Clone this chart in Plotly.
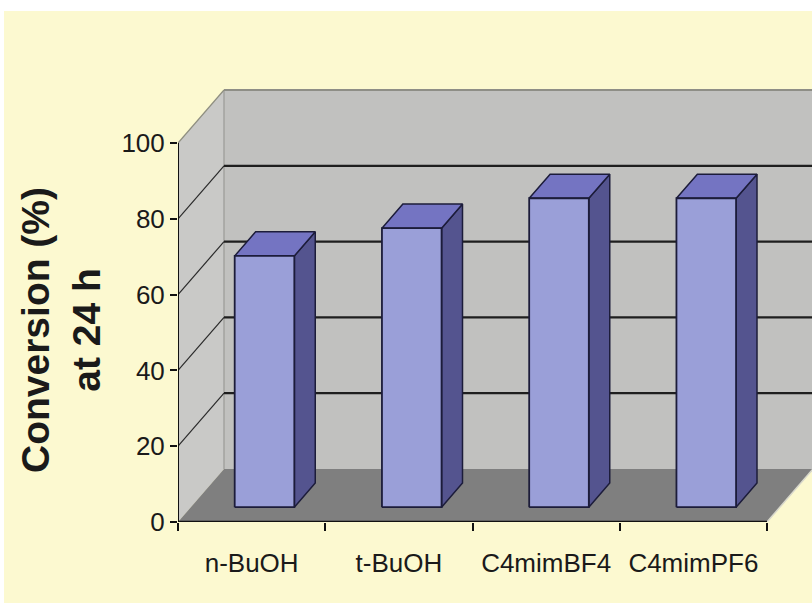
import plotly.graph_objects as go

# Data
categories = ["n-BuOH", "t-BuOH", "C4mimBF4", "C4mimPF6"]
conversion = [66.3, 73.6, 81.5, 81.5]
y_ticks = [0, 20, 40, 60, 80, 100]

# Figure geometry (pixels)
W, H = 812, 603
M_LEFT, M_BOTTOM = 178, 81
PX_X = 147.25           # pixels per category slot
PX_Y = 3.79             # pixels per percentage point
DEPTH_DX, DEPTH_DY = 46, 53   # oblique depth of the chart box, pixels

Dx = DEPTH_DX / PX_X
Dy = DEPTH_DY / PX_Y
BAR_W = 0.405
BAR_D0, BAR_D1 = 0.28, 0.735   # bar front / back as fraction of box depth

n = len(categories)
x_max = (W - M_LEFT) / PX_X
y_max = (H - M_BOTTOM) / PX_Y


def proj(x, d, v):
    """Oblique projection of (slot x, depth fraction, value) to plot coords."""
    return x + d * Dx, v + d * Dy


def poly(points, fill, line_color=None, line_width=0):
    xs, ys = zip(*points)
    xs = list(xs) + [xs[0]]
    ys = list(ys) + [ys[0]]
    return go.Scatter(
        x=xs, y=ys, mode="lines", fill="toself", fillcolor=fill,
        line=dict(color=line_color or fill, width=line_width),
        hoverinfo="skip", showlegend=False,
    )


def seg(p0, p1, color, width):
    return go.Scatter(
        x=[p0[0], p1[0]], y=[p0[1], p1[1]], mode="lines",
        line=dict(color=color, width=width),
        hoverinfo="skip", showlegend=False,
    )


fig = go.Figure()

top = y_ticks[-1]

# Back wall
fig.add_trace(poly([proj(0, 1, 0), proj(n + 1, 1, 0),
                    proj(n + 1, 1, top), proj(0, 1, top)], "#C1C1BF"))
# Side wall
fig.add_trace(poly([proj(0, 0, 0), proj(0, 1, 0),
                    proj(0, 1, top), proj(0, 0, top)], "#C9C9C7"))
# Floor
fig.add_trace(poly([proj(0, 0, 0), proj(n, 0, 0),
                    proj(n, 1, 0), proj(0, 1, 0)], "#7F7F7F"))

# Wall edges
fig.add_trace(seg(proj(0, 1, 0), proj(0, 1, top), "#9A9A96", 1.2))
fig.add_trace(seg(proj(0, 1, top), proj(n + 1, 1, top), "#8E8E86", 2))
fig.add_trace(seg(proj(0, 0, top), proj(0, 1, top), "#8E8E80", 1.2))
fig.add_trace(seg(proj(n, 0, 0), proj(n, 1, 0), "#D8D8CC", 1.5))

# Gridlines on back and side walls
for v in y_ticks[1:-1]:
    fig.add_trace(seg(proj(0, 1, v), proj(n + 1, 1, v), "#1E1E1E", 2.2))
    fig.add_trace(seg(proj(0, 0, v), proj(0, 1, v), "#2A2A2A", 1.2))

# Axis lines
fig.add_trace(seg(proj(0, 0, 0), proj(0, 0, top), "#111111", 2))
fig.add_trace(seg(proj(0, 0, 0), proj(n, 0, 0), "#111111", 2.5))

# 3D bars
OUTLINE = "#1C1C3A"
for i, v in enumerate(conversion):
    xl = i + 0.5 - BAR_W / 2
    xr = i + 0.5 + BAR_W / 2
    front = [proj(xl, BAR_D0, 0), proj(xr, BAR_D0, 0),
             proj(xr, BAR_D0, v), proj(xl, BAR_D0, v)]
    side = [proj(xr, BAR_D0, 0), proj(xr, BAR_D1, 0),
            proj(xr, BAR_D1, v), proj(xr, BAR_D0, v)]
    lid = [proj(xl, BAR_D0, v), proj(xr, BAR_D0, v),
           proj(xr, BAR_D1, v), proj(xl, BAR_D1, v)]
    fig.add_trace(poly(side, "#54548F", OUTLINE, 1.5))
    fig.add_trace(poly(lid, "#7474C2", OUTLINE, 1.5))
    fig.add_trace(poly(front, "#9A9FD8", OUTLINE, 1.8))

label_font = dict(family="Liberation Sans, Arial, sans-serif", size=26, color="#1A1A1A")

fig.update_layout(
    width=W, height=H,
    margin=dict(l=M_LEFT, r=0, t=0, b=M_BOTTOM, pad=0, autoexpand=False),
    paper_bgcolor="#FFFFFF",
    plot_bgcolor="rgba(0,0,0,0)",
    showlegend=False,
    xaxis=dict(
        range=[0, x_max], tickmode="array", tickvals=list(range(n + 1)),
        showticklabels=False, ticks="outside", ticklen=8, tickwidth=2,
        tickcolor="#111111", showgrid=False, zeroline=False, showline=False,
        fixedrange=True, automargin=False,
    ),
    xaxis2=dict(
        overlaying="x", anchor="y", side="bottom", matches="x",
        range=[0, x_max], tickmode="array",
        tickvals=[i + 0.5 for i in range(n)], ticktext=categories,
        ticks="", tickangle=0, ticklabelstandoff=23, tickfont=label_font,
        showgrid=False, zeroline=False, showline=False, fixedrange=True,
        automargin=False,
    ),
    yaxis=dict(
        range=[0, y_max], tickmode="array", tickvals=y_ticks,
        ticks="outside", ticklen=7, tickwidth=2, tickcolor="#111111",
        tickfont=label_font, showgrid=False, zeroline=False, showline=False,
        fixedrange=True, automargin=False,
    ),
    shapes=[dict(
        type="rect", xref="paper", yref="paper", layer="below",
        x0=(4 - M_LEFT) / (W - M_LEFT), x1=1,
        y0=-M_BOTTOM / (H - M_BOTTOM), y1=(H - M_BOTTOM - 11) / (H - M_BOTTOM),
        fillcolor="#FCF9D0", line=dict(width=0),
    )],
    annotations=[dict(
        text="<b>Conversion (%)</b><br><b>at 24 h</b>",
        xref="paper", yref="paper",
        x=(61 - M_LEFT) / (W - M_LEFT), y=(H - M_BOTTOM - 330) / (H - M_BOTTOM),
        xanchor="center", yanchor="middle", textangle=-90, showarrow=False,
        font=dict(family="Liberation Sans, Arial, sans-serif", size=39, color="#1A1A1A"),
    )],
)

# Keep the second x axis present so its labels render
fig.add_trace(go.Scatter(x=[0.5], y=[0], xaxis="x2", mode="markers",
                         marker=dict(opacity=0), hoverinfo="skip", showlegend=False))

fig.write_html("out.html")
